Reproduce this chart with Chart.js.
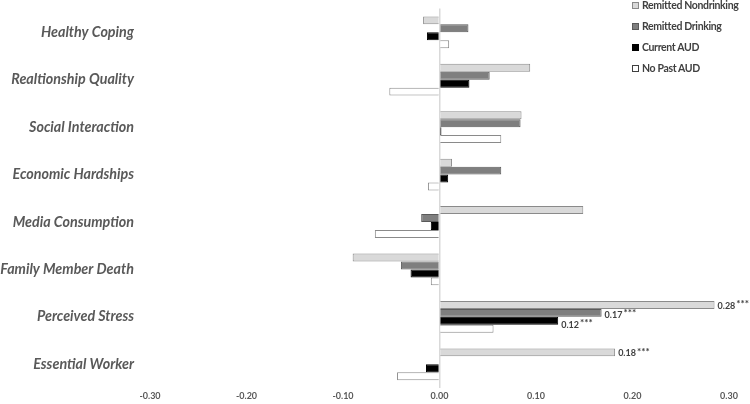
<!DOCTYPE html>
<html>
<head>
<meta charset="utf-8">
<script src="https://cdn.jsdelivr.net/npm/chart.js@4/dist/chart.umd.min.js"></script>
<style>
  html, body { margin: 0; padding: 0; background: #fff; }
  #wrap { position: relative; width: 750px; height: 404px; }
  #legend { position: absolute; left: 632px; top: -3px; font: bold 10.5px Lato, sans-serif; letter-spacing: -0.35px; color: #404040; }
  #legend div { height: 21px; line-height: 16px; white-space: nowrap; }
  #legend span { display: inline-block; width: 7px; height: 7px; margin-right: 3px; vertical-align: 0px; box-sizing: border-box; }
</style>
</head>
<body>
<div id="wrap">
  <canvas id="chart" width="750" height="404"></canvas>
  <div id="legend"></div>
</div>
<script>
// Categorias e séries
const categories = ['Healthy Coping', 'Realtionship Quality', 'Social Interaction', 'Economic Hardships',
  'Media Consumption', 'Family Member Death', 'Perceived Stress', 'Essential Worker'];
const seriesNames = ['Remitted Nondrinking', 'Remitted Drinking', 'Current AUD', 'No Past AUD'];

const remittedNondrinking = [-0.017, 0.094, 0.085, 0.013, 0.149, -0.090, 0.285, 0.182];
const remittedDrinking = [0.030, 0.052, 0.084, 0.064, -0.019, -0.040, 0.168, 0];
const currentAUD = [-0.013, 0.031, 0.002, 0.009, -0.009, -0.030, 0.123, -0.014];
const noPastAUD = [0.010, -0.052, 0.064, -0.012, -0.067, -0.009, 0.056, -0.044];

// Rótulos de significância (vazio = sem rótulo)
const rnLabels = ['', '', '', '', '', '', '0.28', '0.18'];
const rdLabels = ['', '', '', '', '', '', '0.17', ''];
const caLabels = ['', '', '', '', '', '', '0.12', ''];
const npLabels = ['', '', '', '', '', '', '', ''];

const xTicks = [-0.30, -0.20, -0.10, 0.00, 0.10, 0.20, 0.30];

const fills = ['#d9d9d9', '#7f7f7f', '#000000', '#ffffff'];
const borders = ['#8a8a8a', '#5a5a5a', '#000000', '#8a8a8a'];
const allValues = [remittedNondrinking, remittedDrinking, currentAUD, noPastAUD];
const allLabels = [rnLabels, rdLabels, caLabels, npLabels];

// Plugin simples para escrever os valores com ***
const starLabels = {
  id: 'starLabels',
  afterDatasetsDraw(chart) {
    const ctx = chart.ctx;
    ctx.save();
    chart.data.datasets.forEach((ds, i) => {
      const meta = chart.getDatasetMeta(i);
      meta.data.forEach((bar, j) => {
        const txt = allLabels[i][j];
        if (!txt) return;
        const y = bar.y + (i === 0 ? 1 : i === 1 ? 2 : 4);
        ctx.fillStyle = '#404040';
        ctx.font = 'bold 9px Lato, sans-serif';
        ctx.textBaseline = 'middle';
        ctx.textAlign = 'left';
        const x = bar.x + 3;
        ctx.fillText(txt, x, y);
        const w = ctx.measureText(txt).width;
        ctx.font = 'bold 10px Lato, sans-serif';
        ctx.fillText('***', x + w + 1, y - 2);
      });
    });
    ctx.restore();
  }
};

new Chart(document.getElementById('chart'), {
  type: 'bar',
  data: {
    labels: categories,
    datasets: seriesNames.map((name, i) => ({
      label: name,
      data: allValues[i],
      backgroundColor: fills[i],
      borderColor: borders[i],
      borderWidth: 1,
      categoryPercentage: 0.67,
      barPercentage: 1
    }))
  },
  options: {
    indexAxis: 'y',
    responsive: false,
    animation: false,
    layout: { padding: { top: 4, right: 21, bottom: 0, left: 0 } },
    plugins: { legend: { display: false }, tooltip: { enabled: false } },
    scales: {
      x: {
        min: -0.3,
        max: 0.3,
        afterBuildTicks: (scale) => { scale.ticks = xTicks.map(v => ({ value: v })); },
        afterFit: (scale) => { scale.height = 16; },
        grid: {
          drawTicks: false,
          color: (c) => c.tick && Math.abs(c.tick.value) < 1e-9 ? '#d9d9d9' : 'rgba(0,0,0,0)',
          lineWidth: 1.5
        },
        border: { display: false },
        ticks: {
          padding: 3,
          color: '#595959',
          font: { family: 'Lato, sans-serif', size: 9, weight: 'bold' },
          callback: (v) => Number(v).toFixed(2)
        }
      },
      y: {
        afterFit: (scale) => { scale.width = 150; },
        grid: { display: false, drawTicks: true, tickLength: 16 },
        border: { display: false },
        ticks: {
          padding: 0,
          color: '#595959',
          font: { family: 'Lato, sans-serif', size: 14.3, weight: 'bold', style: 'italic' }
        }
      }
    }
  },
  plugins: [starLabels]
});

// Legenda em HTML
const legend = document.getElementById('legend');
seriesNames.forEach((name, i) => {
  const row = document.createElement('div');
  const box = document.createElement('span');
  box.style.background = fills[i];
  box.style.border = '1px solid ' + (i === 3 ? '#404040' : borders[i]);
  row.appendChild(box);
  row.appendChild(document.createTextNode(name));
  legend.appendChild(row);
});
</script>
</body>
</html>
